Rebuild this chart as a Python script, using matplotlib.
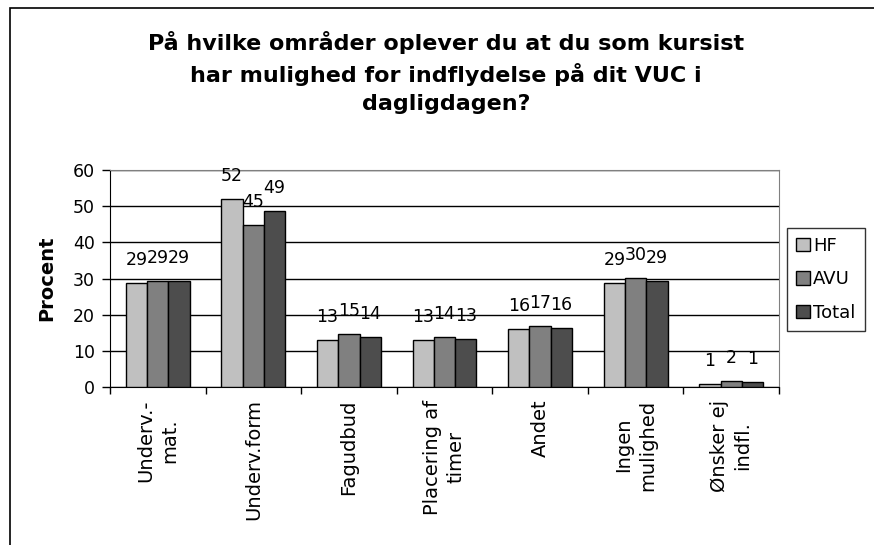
import matplotlib
matplotlib.use("Agg")
import matplotlib.pyplot as plt
import numpy as np
from matplotlib.patches import Rectangle

categories = ["Underv.-\nmat.", "Underv.form", "Fagudbud", "Placering af\ntimer",
              "Andet", "Ingen\nmulighed", "Ønsker ej\nindfl."]
series_names = ["HF", "AVU", "Total"]
hf = [28.8, 51.9, 13.0, 13.0, 16.0, 28.8, 0.9]
avu = [29.4, 44.8, 14.7, 13.8, 16.9, 30.2, 1.6]
total = [29.4, 48.7, 13.8, 13.4, 16.4, 29.4, 1.4]
colors = ["#C0C0C0", "#808080", "#4D4D4D"]
yticks = [0, 10, 20, 30, 40, 50, 60]
title = "På hvilke områder oplever du at du som kursist\nhar mulighed for indflydelse på dit VUC i\ndagligdagen?"
ylabel = "Procent"

plt.rcParams['font.family'] = ['DejaVu Sans']

W, H = 874, 545
fig = plt.figure(figsize=(W / 100, H / 100), dpi=100)
fig.patch.set_facecolor("white")

# outer chart border
fig.patches.append(Rectangle((10 / W, -0.1), 1.2, (1 - 8 / H) + 0.1, transform=fig.transFigure,
                             fill=False, edgecolor="black", linewidth=1.2, clip_on=False))

ax = fig.add_axes([110 / W, 1 - 387 / H, (779 - 110) / W, (387 - 170) / H])

x = np.arange(len(categories))
bw = 0.223
data = [hf, avu, total]
for i, (vals, c, name) in enumerate(zip(data, colors, series_names)):
    pos = x + (i - 1) * bw
    ax.bar(pos, vals, width=bw, color=c, edgecolor="black", linewidth=1.0,
           label=name, zorder=3)
    for px, v in zip(pos, vals):
        ax.annotate(f"{v:.0f}", (px, v), xytext=(0, 10), textcoords="offset points",
                    ha="center", va="bottom", fontsize=12.5, zorder=4)

ax.set_xlim(-0.5, len(categories) - 0.5)
ax.set_ylim(0, 60)
ax.set_yticks(yticks)
ax.yaxis.grid(True, color="black", linewidth=1.0, zorder=0)
ax.set_axisbelow(True)
ax.tick_params(axis="y", direction="out", length=6, width=1, labelsize=12.5, pad=5)
ax.set_xticks(x)
ax.set_xticklabels(categories, rotation=90, fontsize=14, ha="center", va="top",
                   multialignment="center", linespacing=1.3)
ax.set_xticks(np.arange(-0.5, len(categories), 1), minor=True)
ax.tick_params(axis="x", which="major", length=0, pad=9)
ax.tick_params(axis="x", which="minor", direction="out", length=5, width=1)
for s in ["top", "right"]:
    ax.spines[s].set_color("#808080")
for s in ["left", "bottom"]:
    ax.spines[s].set_color("black")
ax.set_ylabel(ylabel, fontsize=14, fontweight="bold", labelpad=12)

fig.text(446 / W, 1 - 31 / H, title, ha="center", va="top", fontsize=16,
         fontweight="bold", linespacing=1.5)

leg = fig.legend(loc="upper left", bbox_to_anchor=(787 / W, 1 - 228 / H), fontsize=13,
                 frameon=True, fancybox=False, edgecolor="black", handlelength=0.75,
                 handleheight=0.75, handletextpad=0.2, labelspacing=0.85, borderpad=0.5,
                 borderaxespad=0)
leg.get_frame().set_linewidth(1.0)

fig.savefig("out.png", dpi=100)
